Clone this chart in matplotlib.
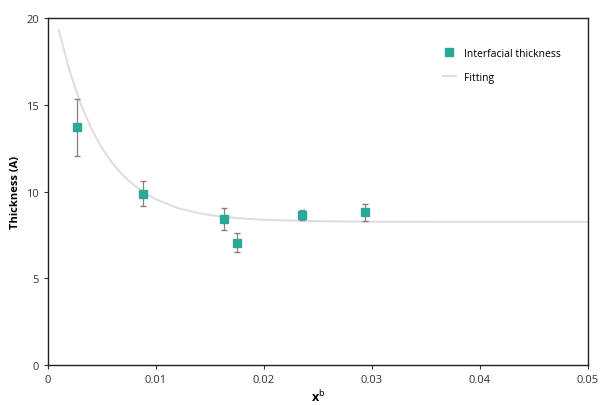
import matplotlib.pyplot as plt

# measured points (mole fraction vs thickness)
x_b = [0.0027, 0.0088, 0.0163, 0.0175, 0.0235, 0.0294]
thickness = [13.7, 9.85, 8.4, 7.05, 8.65, 8.8]
err_lo = [1.65, 0.7, 0.6, 0.55, 0.3, 0.5]
err_hi = [1.65, 0.75, 0.65, 0.55, 0.3, 0.5]

# fitted curve
fit_x = [0.001, 0.002, 0.003, 0.004, 0.005, 0.006, 0.007, 0.008, 0.009, 0.010,
         0.012, 0.014, 0.016, 0.018, 0.020, 0.025, 0.030, 0.040, 0.050]
fit_y = [19.3, 16.95, 15.1, 13.65, 12.5, 11.6, 10.9, 10.35, 9.9, 9.55,
         9.05, 8.75, 8.55, 8.45, 8.37, 8.29, 8.26, 8.25, 8.25]

plt.rcParams['font.family'] = ['Open Sans', 'DejaVu Sans']

fig = plt.figure(figsize=(6.02, 4.06), dpi=100)
ax = fig.add_axes([0.0797, 0.0985, 0.897, 0.8545])

ax.plot(fit_x, fit_y, color='#dedede', lw=1.5, label='Fitting', zorder=1)
ax.errorbar(x_b, thickness, yerr=[err_lo, err_hi], fmt='none',
            ecolor='#8a7f80', elinewidth=0.9, capsize=2, zorder=2)
ax.plot(x_b, thickness, 's', color='#2aa898', markersize=6,
        label='Interfacial thickness', zorder=3)

ax.set_xlim(0, 0.05)
ax.set_ylim(0, 20)
ax.set_xticks([0, 0.01, 0.02, 0.03, 0.04, 0.05])
ax.set_xticklabels(['0', '0.01', '0.02', '0.03', '0.04', '0.05'])
ax.set_yticks([0, 5, 10, 15, 20])
ax.tick_params(labelsize=8, length=3, width=0.8, color='#333333', labelcolor='#333333')
for s in ax.spines.values():
    s.set_linewidth(1.0)
    s.set_color('#222222')

ax.set_ylabel('Thickness (A)', fontsize=8, fontweight='bold', labelpad=4)
ax.set_xlabel('x$^{\\mathrm{b}}$', fontsize=9, fontweight='bold', labelpad=2)

handles, labels = ax.get_legend_handles_labels()
ax.legend(handles[::-1], labels[::-1], loc='upper right', frameon=False,
          fontsize=7.5, bbox_to_anchor=(0.967, 0.942), handlelength=1.2,
          labelspacing=1.3, markerscale=0.9)

plt.savefig('out.png', dpi=100)
